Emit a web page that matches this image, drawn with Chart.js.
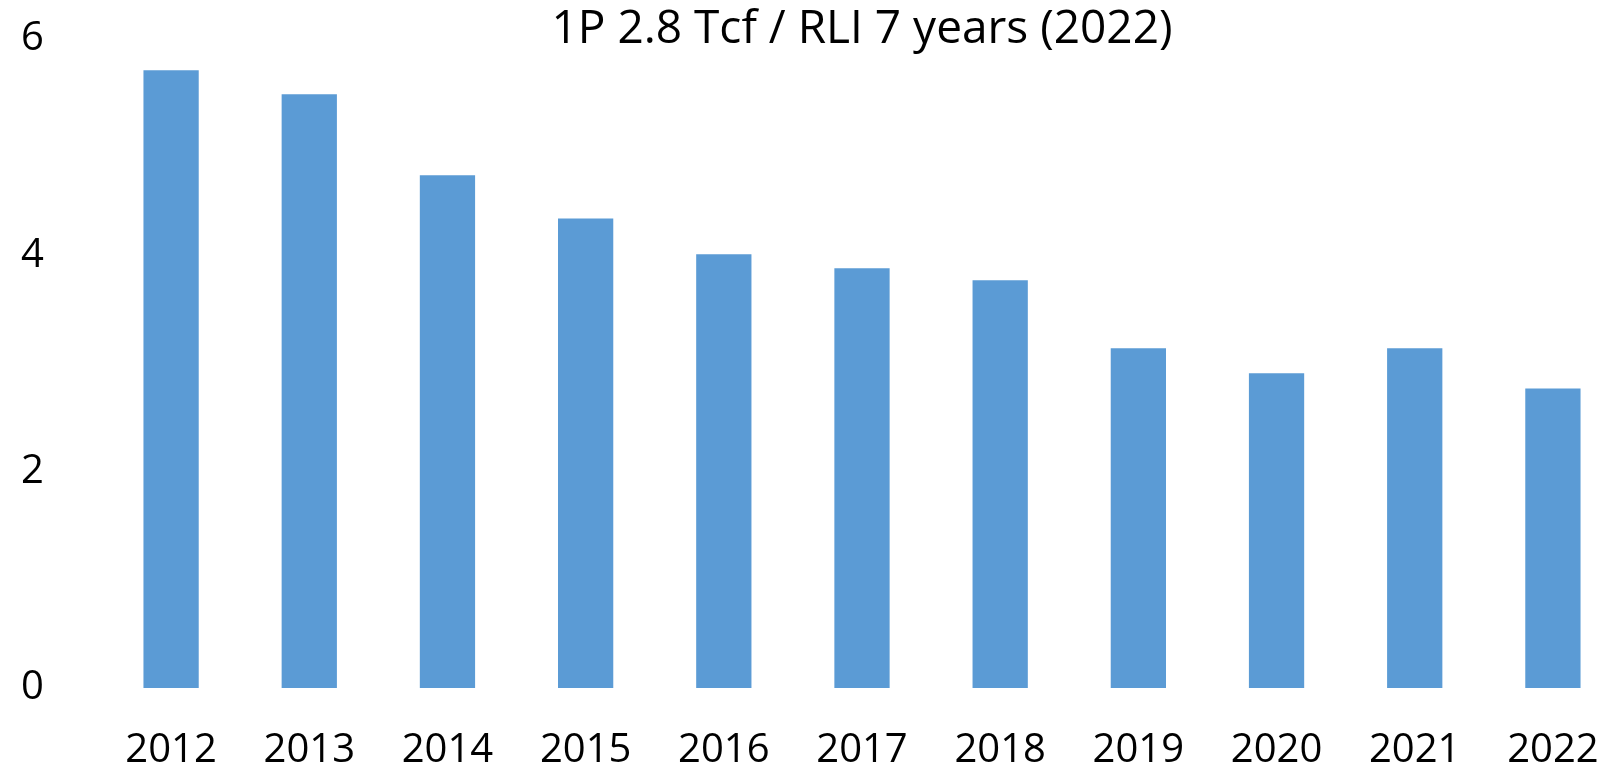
<!DOCTYPE html>
<html>
<head>
<meta charset="utf-8">
<script src="https://cdn.jsdelivr.net/npm/chart.js@4"></script>
<style>
  html, body { margin: 0; padding: 0; background: #fff; overflow: hidden; }
  #wrap { position: relative; width: 1652px; height: 766px; }
</style>
</head>
<body>
<div id="wrap"><canvas id="c"></canvas></div>
<script>
const categories = ['2012', '2013', '2014', '2015', '2016', '2017', '2018', '2019', '2020', '2021', '2022'];
const reserves = [5.71, 5.49, 4.74, 4.34, 4.01, 3.88, 3.77, 3.14, 2.91, 3.14, 2.77];
const yTicks = [0, 2, 4, 6];
const titleText = '1P 2.8 Tcf / RLI 7 years (2022)';

const FONT = '"Open Sans", Lato, sans-serif';

new Chart(document.getElementById('c'), {
  type: 'bar',
  data: {
    labels: categories,
    datasets: [{
      data: reserves,
      backgroundColor: '#5B9BD5',
      borderWidth: 0,
      barPercentage: 0.4,
      categoryPercentage: 1.0
    }]
  },
  options: {
    responsive: true,
    maintainAspectRatio: false,
    animation: false,
    layout: { padding: { left: 21, right: 30, top: 0, bottom: 0 } },
    plugins: {
      legend: { display: false },
      tooltip: { enabled: false },
      title: {
        display: true,
        text: titleText,
        fullSize: false,
        color: '#000',
        font: { family: FONT, size: 46, weight: 'normal', lineHeight: 1 },
        padding: { top: 7, bottom: -14 }
      }
    },
    scales: {
      x: {
        grid: { display: false, drawTicks: false },
        border: { display: false },
        ticks: {
          color: '#000',
          font: { family: FONT, size: 40 },
          padding: 39,
          maxRotation: 0,
          autoSkip: false
        },
        afterFit: (s) => { s.height = 78; }
      },
      y: {
        min: 0,
        max: 6,
        grid: { display: false, drawTicks: false },
        border: { display: false },
        afterBuildTicks: (s) => { s.ticks = yTicks.map(v => ({ value: v })); },
        ticks: {
          color: '#000',
          font: { family: FONT, size: 40 },
          padding: 0,
          crossAlign: 'far'
        },
        afterFit: (s) => { s.width = 81; }
      }
    }
  }
});
</script>
</body>
</html>
